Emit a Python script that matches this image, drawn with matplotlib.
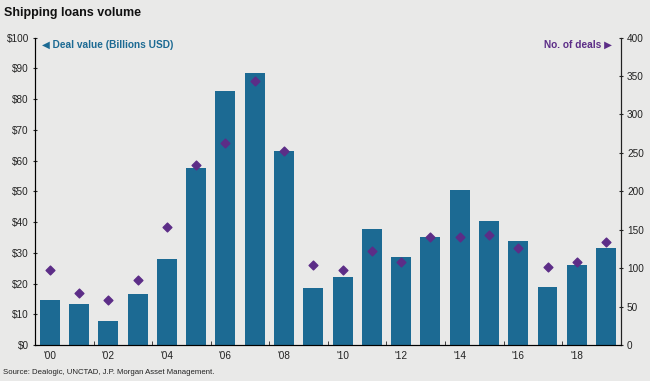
import matplotlib
matplotlib.use('Agg')
import matplotlib.pyplot as plt
import numpy as np

plt.rcParams['font.family'] = ['Liberation Sans', 'DejaVu Sans']

BG = '#e9e9e8'
BAR = '#1c6a93'
DOT = '#5c2d87'
DARK = '#222222'

years = list(range(2000, 2020))
deal_value = [14.6, 13.3, 7.9, 16.6, 28.1, 57.7, 82.6, 88.5, 63.1, 18.4,
              22.2, 37.7, 28.5, 35.1, 50.3, 40.3, 33.9, 19.0, 26.0, 31.7]
num_deals = [98, 68, 58, 84, 154, 234, 263, 344, 253, 104,
             98, 122, 108, 141, 141, 143, 126, 102, 108, 134]
value_ticks = [0, 10, 20, 30, 40, 50, 60, 70, 80, 90, 100]
deal_ticks = [0, 50, 100, 150, 200, 250, 300, 350, 400]

fig = plt.figure(figsize=(6.5, 3.81), dpi=100)
fig.patch.set_facecolor(BG)
ax = fig.add_axes([0.054, 0.0945, 0.901, 0.807])
ax.set_facecolor(BG)
x = np.arange(len(years))
ax.bar(x, deal_value, width=0.68, color=BAR, zorder=2)
ax.set_xlim(-0.5, len(years) - 0.5)
ax.set_ylim(0, 100)
ax.set_yticks(value_ticks)
ax.set_yticklabels([f'${v}' for v in value_ticks])
ax.set_xticks(x[::2])
ax.set_xticklabels([f"'{y % 100:02d}" for y in years[::2]])
ax.set_xticks(x[1:-1:2] + 0.5, minor=True)
ax.tick_params(axis='x', which='major', length=0, labelsize=7.2, colors=DARK, pad=4)
ax.tick_params(axis='x', which='minor', length=3, direction='in', color=DARK)
ax.tick_params(axis='y', labelsize=7.2, colors=DARK, length=3, direction='inout', pad=3)
ax.spines['top'].set_visible(False)
for s in ['left', 'right', 'bottom']:
    ax.spines[s].set_color(DARK)
    ax.spines[s].set_linewidth(0.8)

ax2 = ax.twinx()
ax2.scatter(x, num_deals, marker='D', s=20, color=DOT, zorder=3)
ax2.set_ylim(0, 400)
ax2.set_yticks(deal_ticks)
ax2.tick_params(axis='y', labelsize=7.2, colors=DARK, length=3, direction='inout', pad=3)
ax2.spines['top'].set_visible(False)
ax2.spines['right'].set_color(DARK)
ax2.spines['right'].set_linewidth(0.8)

ax.text(0.012, 0.975, '\u25C0 Deal value (Billions USD)', transform=ax.transAxes,
        color=BAR, fontsize=7.3, fontweight='bold', ha='left', va='center',
        family=['Liberation Sans', 'DejaVu Sans'])
ax.text(0.985, 0.975, 'No. of deals \u25B6', transform=ax.transAxes,
        color=DOT, fontsize=7.3, fontweight='bold', ha='right', va='center',
        family=['Liberation Sans', 'DejaVu Sans'])

fig.text(0.006, 0.966, 'Shipping loans volume', fontsize=9, fontweight='bold',
         color='#111111', ha='left', va='center')
fig.text(0.004, 0.022, 'Source: Dealogic, UNCTAD, J.P. Morgan Asset Management.',
         fontsize=5.6, color=DARK, ha='left', va='center')

fig.savefig('out.png', dpi=100, facecolor=BG)
